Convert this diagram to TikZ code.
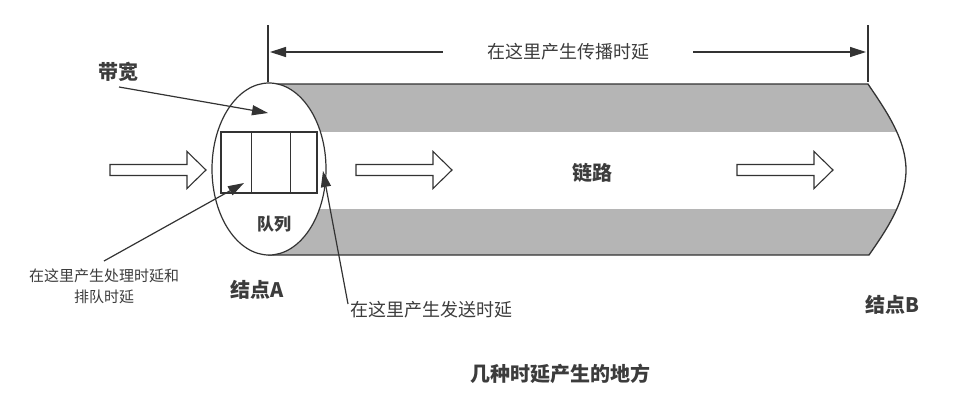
\documentclass[tikz,border=0pt]{standalone}
\usepackage{fontspec}
\setmainfont{Noto Sans CJK SC}
\usepackage{xcolor}
\usetikzlibrary{shapes.geometric, arrows.meta, positioning}
\definecolor{linegray}{HTML}{333333}
\definecolor{bandgray}{HTML}{B5B5B5}
\definecolor{textgray}{HTML}{3C3C3C}

\tikzset{
  bigbold/.style={text=textgray, font=\fontsize{20}{24}\selectfont\bfseries, inner sep=0pt},
  msg/.style={text=textgray, font=\fontsize{18}{22}\selectfont, inner sep=2pt},
  smallmsg/.style={text=textgray, font=\fontsize{15}{21}\selectfont, align=center, inner sep=0pt},
  ptr/.style={linegray, line width=1.2pt, -{Triangle[length=16pt, width=10pt]}},
  fatarrow/.style={draw=linegray, fill=white, line width=1.1pt, line join=miter},
}

\begin{document}
\begin{tikzpicture}[x=1pt, y=-1pt]
  \useasboundingbox (0,0) rectangle (977,418);
  % link (pipe)
  \fill[bandgray] (268,84) -- (868,84) .. controls (884,108) and (906,138) .. (906,170)
    .. controls (906,202) and (885,232) .. (869,255) -- (268,255) -- cycle;
  \fill[white] (268,132) rectangle (910,209);
  \draw[linegray, line width=1.3pt] (268,84) -- (868,84) .. controls (884,108) and (906,138) .. (906,170)
    .. controls (906,202) and (885,232) .. (869,255) -- (268,255);
  % node A with its queue
  \node[draw=linegray, line width=1.2pt, fill=white, ellipse, minimum width=114, minimum height=172, inner sep=0pt] (nodeA) at (269,169) {};
  \node[draw=linegray, line width=1.2pt, rectangle, minimum width=96, minimum height=61, inner sep=0pt] (queue) at (269,162.5) {};
  \draw[linegray, line width=1.2pt] ([xshift=31]queue.north west) -- ([xshift=31]queue.south west);
  \draw[linegray, line width=1.2pt] ([xshift=70]queue.north west) -- ([xshift=70]queue.south west);
  % block arrows
  \foreach \ax in {110, 356, 737}
    \draw[fatarrow] (\ax,170) ++(0,-5.5) -- ++(77,0) -- ++(0,-13) -- ++(19,18.5) -- ++(-19,18.5) -- ++(0,-13) -- ++(-77,0) -- cycle;
  % labels
  \node[bigbold] (bw) at (118,72) {带宽};
  \node[text=textgray, font=\fontsize{17}{20}\selectfont\bfseries, inner sep=0pt] (qlabel) at (274,224) {队列};
  \node[bigbold] (labelA) at (257,290) {结点A};
  \node[bigbold] (labelB) at (892,305) {结点B};
  \node[bigbold] (link) at (592,173) {链路};
  \node[bigbold] (title) at (560,374) {几种时延产生的地方};
  \node[smallmsg] (procnote) at (104,286) {在这里产生处理时延和\\排队时延};
  \node[msg, anchor=west] (sendnote) at (348,310) {在这里产生发送时延};
  \node[msg] (propnote) at (568,52) {在这里产生传播时延};
  % pointers
  \coordinate (bwfrom) at (119,87);
  \coordinate (bwto) at (268,113);
  \coordinate (procfrom) at (104,261);
  \coordinate (procto) at (244,183);
  \coordinate (sendfrom) at (348,304);
  \coordinate (sendto) at (323,171);
  \draw[ptr] (bwfrom) -- (bwto);
  \draw[ptr] (procfrom) -- (procto);
  \draw[ptr] (sendfrom) -- (sendto);
  % propagation span
  \coordinate (spanL) at (268,25);
  \coordinate (spanR) at (868,25);
  \draw[linegray, line width=1.2pt] (spanL) -- ++(0,57);
  \draw[linegray, line width=1.2pt] (spanR) -- ++(0,57);
  \draw[ptr] ([xshift=-42]propnote.west) -- (270,52);
  \draw[ptr] ([xshift=42]propnote.east) -- (866,52);
\end{tikzpicture}
\end{document}
